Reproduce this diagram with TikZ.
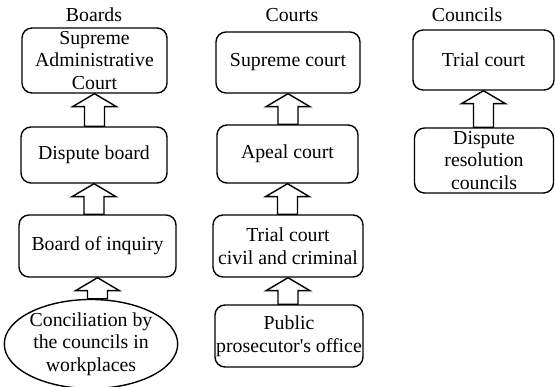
\documentclass[tikz,border=0pt]{standalone}
\usepackage{fontspec}
\setmainfont{Liberation Serif}
\usetikzlibrary{calc,shapes.geometric}
\tikzset{box/.style={draw,line width=1.4pt,rounded corners=10pt,align=center,inner sep=1pt},
	title/.style={inner sep=0pt},
	blockarr/.style={draw,line width=1.4pt,fill=white,line join=miter}}
\newcommand{\blockup}[2]{%
	\draw[blockarr] let \p1=(#1.north), \p2=(#2.south) in
	(\x2-10pt,\y1) -- (\x2-10pt,\y2-13pt) -- (\x2-22pt,\y2-13pt) -- (\x2,\y2)
	-- (\x2+22pt,\y2-13pt) -- (\x2+10pt,\y2-13pt) -- (\x2+10pt,\y1) -- cycle;}

\begin{document}
\begin{tikzpicture}[x=1pt,y=-1pt,font=\fontsize{19.8}{22.5}\selectfont]
				\useasboundingbox (0,0) rectangle (555,387);
				% Boards
				\node[title] (tboards) at (94,15) {Boards};
				\node[box,minimum width=145pt,minimum height=65pt] (bsup) at (94.5,60.5) {Supreme\\Administrative\\Court};
				\node[box,minimum width=146pt,minimum height=56pt] (bdisp) at (94,155) {Dispute board};
				\node[box,minimum width=157pt,minimum height=62pt] (binq) at (97.5,246) {Board of inquiry};
				\node[draw,ellipse,line width=1.4pt,align=center,inner sep=0pt,minimum width=172pt,minimum height=82pt] (bconc) at (91,344) {Conciliation by\\the councils in\\workplaces};
				% Courts
				\node[title] (tcourts) at (292,15) {Courts};
				\node[box,minimum width=144pt,minimum height=61pt] (csup) at (288,62.5) {Supreme court};
				\node[box,minimum width=141pt,minimum height=58pt] (capeal) at (287.5,154) {Apeal court};
				\node[box,minimum width=150pt,minimum height=62pt] (ctrial) at (288,246) {Trial court\\civil and criminal};
				\node[box,minimum width=148pt,minimum height=62pt] (cpros) at (289,336) {Public\\prosecutor\textquotesingle s office};
				% Councils
				\node[title] (tcouncils) at (467,15) {Councils};
				\node[box,minimum width=141pt,minimum height=60pt] (ktrial) at (483.5,60) {Trial court};
				\node[box,minimum width=139pt,minimum height=65pt] (kdisp) at (484,160.5) {Dispute\\resolution\\councils};
				% arrows
				\blockup{bdisp}{bsup} \blockup{binq}{bdisp} \blockup{bconc}{binq}
				\blockup{capeal}{csup} \blockup{ctrial}{capeal} \blockup{cpros}{ctrial}
				\blockup{kdisp}{ktrial}
			\end{tikzpicture}
\end{document}
